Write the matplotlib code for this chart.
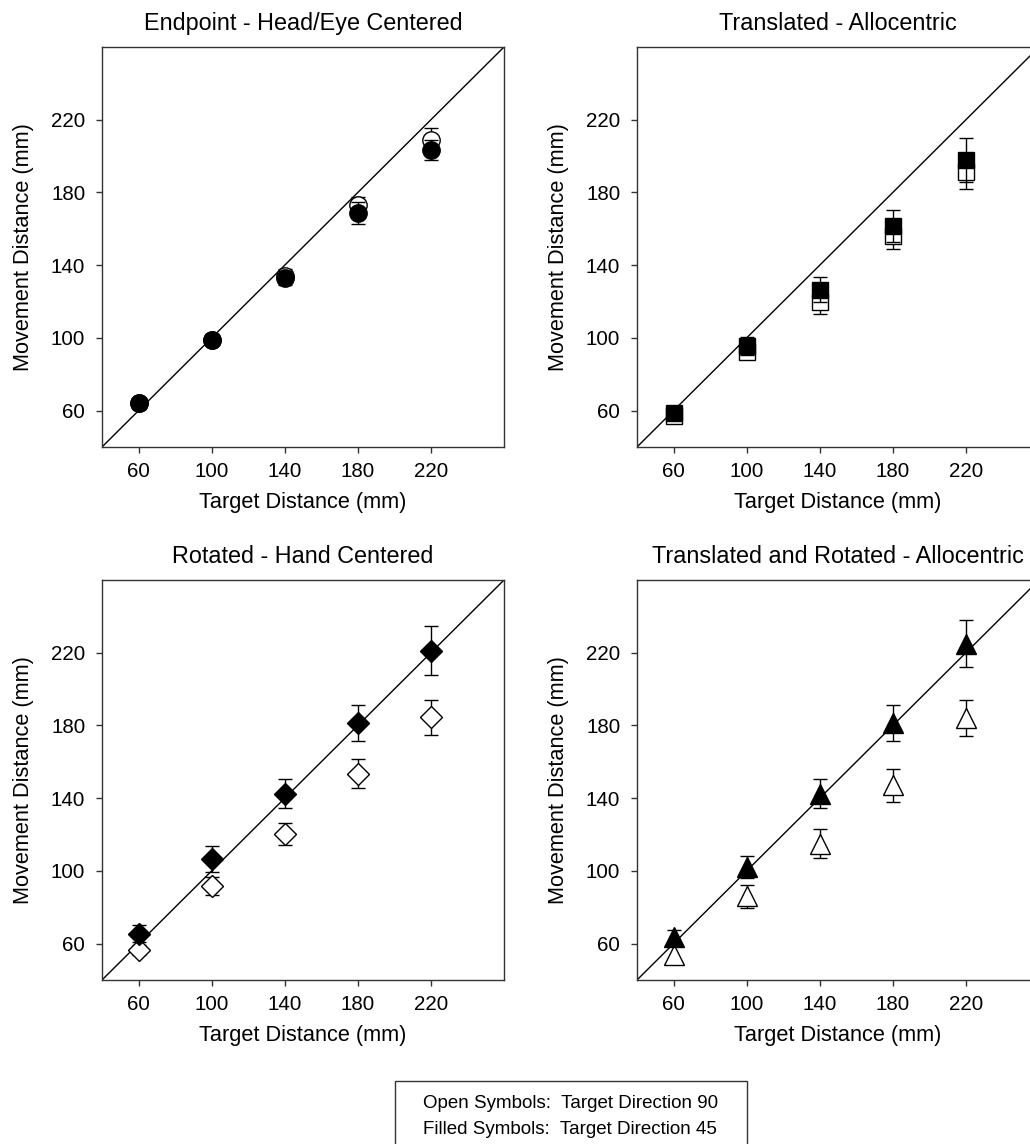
import numpy as np
import matplotlib
matplotlib.use("Agg")
import matplotlib.pyplot as plt
from matplotlib.patches import Rectangle

plt.rcParams['font.family'] = ['Liberation Sans', 'DejaVu Sans']

# ============ Data ============
targets = [60, 100, 140, 180, 220]

endpoint_open = [64, 99, 134, 173, 209]
endpoint_open_err = [3, 3, 4, 4.5, 6.5]
endpoint_filled = [64, 99, 133, 168.5, 203.5]
endpoint_filled_err = [3, 3, 4, 6, 5.5]

translated_open = [57, 92, 119.5, 156, 191.5]
translated_open_err = [3, 3, 6.5, 7, 9.5]
translated_filled = [58.5, 95.5, 126.5, 161.5, 198]
translated_filled_err = [3, 5, 7, 9, 12]

rotated_open = [56.5, 91.5, 120.5, 153.5, 184.5]
rotated_open_err = [3, 5, 6, 8, 9.5]
rotated_filled = [65.5, 106.5, 142.5, 181.5, 221]
rotated_filled_err = [4.5, 7, 8, 10, 13.5]

transrot_open = [54, 86, 115, 147, 184]
transrot_open_err = [5, 6.5, 8, 9, 10]
transrot_filled = [63.5, 102, 142.5, 181.5, 225]
transrot_filled_err = [4, 6, 8, 10, 13]

ticks = [60, 100, 140, 180, 220]
lims = (40, 260)

panels = [
    ("Endpoint - Head/Eye Centered", 'o', 12.5,
     endpoint_open, endpoint_open_err, endpoint_filled, endpoint_filled_err),
    ("Translated - Allocentric", 's', 11,
     translated_open, translated_open_err, translated_filled, translated_filled_err),
    ("Rotated - Hand Centered", 'D', 11,
     rotated_open, rotated_open_err, rotated_filled, rotated_filled_err),
    ("Translated and Rotated - Allocentric", '^', 14,
     transrot_open, transrot_open_err, transrot_filled, transrot_filled_err),
]

W, H = 1030, 1144
fig = plt.figure(figsize=(W / 100, H / 100), dpi=100)

# axes boxes in pixels: left, top
boxes = [(102, 47), (637, 47), (102, 580), (637, 580)]
aw, ah = 402, 400

spine_col = '#333333'

for (title, mk, ms, yo, eo, yf, ef), (lx, ty) in zip(panels, boxes):
    ax = fig.add_axes([lx / W, (H - ty - ah) / H, aw / W, ah / H])
    ax.plot(lims, lims, color='black', lw=1.0, zorder=1)

    ax.errorbar(targets, yo, yerr=eo, fmt='none', ecolor='black',
                elinewidth=1.0, capsize=5, capthick=1.0, zorder=2)
    ax.plot(targets, yo, linestyle='none', marker=mk, markersize=ms,
            markerfacecolor='white', markeredgecolor='black',
            markeredgewidth=1.0, zorder=3)
    ax.errorbar(targets, yf, yerr=ef, fmt='none', ecolor='black',
                elinewidth=1.0, capsize=5, capthick=1.0, zorder=4)
    ax.plot(targets, yf, linestyle='none', marker=mk, markersize=ms,
            markerfacecolor='black', markeredgecolor='black',
            markeredgewidth=1.0, zorder=5)

    ax.set_xlim(lims)
    ax.set_ylim(lims)
    ax.set_xticks(ticks)
    ax.set_yticks(ticks)
    ax.tick_params(direction='out', length=4, width=1, colors=spine_col,
                   labelcolor='black', labelsize=14.8, pad=7)
    ax.tick_params(axis='y', pad=8)
    for s in ax.spines.values():
        s.set_color(spine_col)
        s.set_linewidth(1.0)
    ax.set_title(title, fontsize=16.8, pad=12)
    ax.set_xlabel("Target Distance (mm)", fontsize=15.7, labelpad=8)
    ax.set_ylabel("Movement Distance (mm)", fontsize=15.7, labelpad=12)

# legend box at the bottom
fig.patches.append(Rectangle((395 / W, -0.01), (747 - 395) / W, (H - 1081) / H + 0.01,
                             transform=fig.transFigure, facecolor='white',
                             edgecolor=spine_col, lw=1.0))
fig.text(423 / W, 1 - 1104 / H, "Open Symbols:  Target Direction 90",
         fontsize=13.5, ha='left', va='center')
fig.text(423 / W, 1 - 1129 / H, "Filled Symbols:  Target Direction 45",
         fontsize=13.5, ha='left', va='center')

fig.savefig("out.png", dpi=100)
